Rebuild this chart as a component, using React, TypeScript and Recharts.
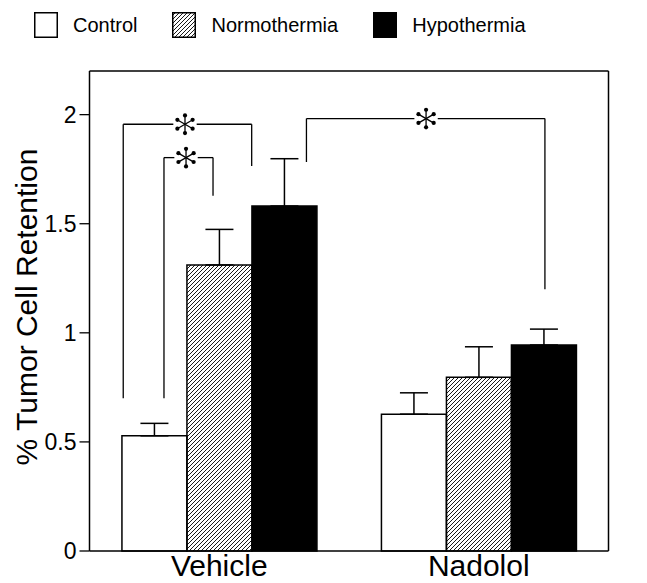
import React from 'react';
import {
  BarChart, Bar, XAxis, YAxis, ErrorBar, Legend, ReferenceLine, ReferenceDot,
} from 'recharts';

// ---- data ----
const groups = ['Vehicle', 'Nadolol'];
const seriesNames = ['Control', 'Normothermia', 'Hypothermia'];
const controlMeans = [0.528, 0.627];
const controlSEM = [0.057, 0.098];
const normoMeans = [1.311, 0.796];
const normoSEM = [0.163, 0.14];
const hypoMeans = [1.581, 0.944];
const hypoSEM = [0.217, 0.073];
const yTicks = [0, 0.5, 1, 1.5, 2];
const yMax = 2.2;
// group centre positions as a fraction of the plot width
const groupPos = [0.25, 0.75];

// significance brackets (x as fraction of plot width, y in data units)
const bracketX1 = [0.065, 0.1435, 0.418];
const bracketX2 = [0.3125, 0.238, 0.8775];
const bracketTopY = [1.956, 1.803, 1.982];
const bracketY1 = [0.7, 0.7, 1.783];
const bracketY2 = [1.765, 1.628, 1.2];
const starX = [0.184, 0.186, 0.6485];
const starGap = 0.0225;

const data = groups.map((g, i) => ({
  group: g,
  pos: groupPos[i],
  control: controlMeans[i],
  controlErr: [0, controlSEM[i]],
  normo: normoMeans[i],
  normoErr: [0, normoSEM[i]],
  hypo: hypoMeans[i],
  hypoErr: [0, hypoSEM[i]],
}));

const series = [
  { key: 'control', name: seriesNames[0], fill: '#ffffff' },
  { key: 'normo', name: seriesNames[1], fill: 'url(#hatch)' },
  { key: 'hypo', name: seriesNames[2], fill: '#000000' },
];

const FONT = '"Liberation Sans", Arial, Helvetica, sans-serif';

const Star = (props: any) => {
  const { cx, cy } = props;
  const angles = [90, 270, 30, 150, 210, 330];
  return (
    <g>
      {angles.map((a) => {
        const rad = (a * Math.PI) / 180;
        const ex = cx + Math.cos(rad) * 8.5;
        const ey = cy - Math.sin(rad) * 8.5;
        return (
          <g key={a}>
            <line x1={cx} y1={cy} x2={ex} y2={ey} stroke="#000" strokeWidth={1.3} />
            <circle cx={cx + Math.cos(rad) * 8.8} cy={cy - Math.sin(rad) * 8.8} r={2.1} fill="#000" />
          </g>
        );
      })}
    </g>
  );
};

const LegendBox = ({ fill }: { fill: string }) => (
  <svg width={24} height={26} style={{ display: 'block' }}>
    <defs>
      <pattern id="hatchLegend" patternUnits="userSpaceOnUse" width={4} height={4}>
        <path d="M-1,1 L1,-1 M0,4 L4,0 M3,5 L5,3" stroke="#000" strokeWidth={0.9} />
      </pattern>
    </defs>
    <rect x={0.75} y={0.75} width={22.5} height={24.5}
      fill={fill === 'url(#hatch)' ? 'url(#hatchLegend)' : fill} stroke="#000" strokeWidth={1.5} />
  </svg>
);

const renderLegend = () => (
  <div style={{ display: 'flex', alignItems: 'center', height: 30, fontFamily: FONT, fontSize: 20, color: '#000' }}>
    {series.map((s, i) => (
      <div key={s.key} style={{ display: 'flex', alignItems: 'center', marginRight: i < series.length - 1 ? 35 : 0 }}>
        <LegendBox fill={s.fill} />
        <span style={{ marginLeft: 15, whiteSpace: 'nowrap' }}>{s.name}</span>
      </div>
    ))}
  </div>
);

const YLabel = (props: any) => {
  const vb = props.viewBox || {};
  const x = (vb.x || 0) + 28.5;
  const y = (vb.y || 0) + (vb.height || 0) / 2 - 4;
  return (
    <text x={x} y={y} transform={`rotate(-90 ${x} ${y})`} textAnchor="middle"
      fontFamily={FONT} fontSize={30} fill="#000">
      % Tumor Cell Retention
    </text>
  );
};

export default function App() {
  const lineStyle = { stroke: '#000', strokeWidth: 1.3 };
  return (
    <div style={{ fontFamily: FONT, width: 639, height: 575 }}>
      <BarChart width={639} height={575} data={data}
        margin={{ top: 33, right: 38.5, left: 0, bottom: 0 }}
        barCategoryGap="12.5%" barGap={0}>
        <defs>
          <pattern id="hatch" patternUnits="userSpaceOnUse" width={4} height={4}>
            <path d="M-1,1 L1,-1 M0,4 L4,0 M3,5 L5,3" stroke="#000" strokeWidth={0.9} />
          </pattern>
        </defs>
        <Legend verticalAlign="top" content={renderLegend}
          wrapperStyle={{ top: 2, left: 26, width: 'auto' }} />
        <XAxis dataKey="group" height={32} tickLine={false} tickSize={0} tickMargin={4}
          axisLine={{ stroke: '#000', strokeWidth: 1.5 }}
          tick={{ fill: '#000', fontSize: 30, fontFamily: FONT }} />
        <XAxis xAxisId="top" dataKey="group" orientation="top" mirror tick={false} tickLine={false}
          axisLine={{ stroke: '#000', strokeWidth: 1.5 }} />
        <XAxis xAxisId="n" dataKey="pos" type="number" domain={[0, 1]} allowDataOverflow hide />
        <YAxis width={81.5} domain={[0, yMax]} ticks={yTicks} tickSize={10} tickMargin={3}
          interval={0}
          axisLine={{ stroke: '#000', strokeWidth: 1.5 }}
          tickLine={{ stroke: '#000', strokeWidth: 1.3 }}
          tick={{ fill: '#000', fontSize: 23, fontFamily: FONT }}
          label={<YLabel />} />
        <YAxis yAxisId="right" orientation="right" mirror domain={[0, yMax]} tick={false} tickLine={false}
          axisLine={{ stroke: '#000', strokeWidth: 1.5 }} />
        {series.map((s) => (
          <Bar key={s.key} dataKey={s.key} name={s.name} fill={s.fill} stroke="#000" strokeWidth={1.5}
            isAnimationActive={false}>
            <ErrorBar dataKey={`${s.key}Err`} width={14} stroke="#000" strokeWidth={1.5} direction="y" />
          </Bar>
        ))}
        {bracketX1.map((x1, i) => (
          <ReferenceLine key={`l${i}`} xAxisId="n" segment={[{ x: x1, y: bracketY1[i] }, { x: x1, y: bracketTopY[i] }]} {...lineStyle} />
        ))}
        {bracketX1.map((x1, i) => (
          <ReferenceLine key={`h1${i}`} xAxisId="n" segment={[{ x: x1, y: bracketTopY[i] }, { x: starX[i] - starGap, y: bracketTopY[i] }]} {...lineStyle} />
        ))}
        {bracketX2.map((x2, i) => (
          <ReferenceLine key={`h2${i}`} xAxisId="n" segment={[{ x: starX[i] + starGap, y: bracketTopY[i] }, { x: x2, y: bracketTopY[i] }]} {...lineStyle} />
        ))}
        {bracketX2.map((x2, i) => (
          <ReferenceLine key={`r${i}`} xAxisId="n" segment={[{ x: x2, y: bracketTopY[i] }, { x: x2, y: bracketY2[i] }]} {...lineStyle} />
        ))}
        {starX.map((sx, i) => (
          <ReferenceDot key={`s${i}`} xAxisId="n" x={sx} y={bracketTopY[i]} r={10} shape={<Star />} />
        ))}
      </BarChart>
    </div>
  );
}
